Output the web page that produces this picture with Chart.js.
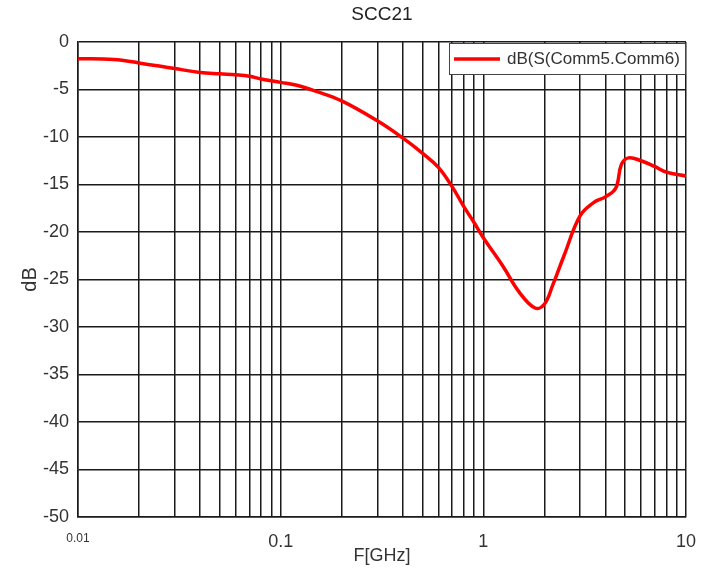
<!DOCTYPE html>
<html>
<head>
<meta charset="utf-8">
<title>SCC21</title>
<script src="https://cdn.jsdelivr.net/npm/chart.js@4.4.1/dist/chart.umd.min.js"></script>
<style>
  html, body { margin: 0; padding: 0; background: #fff; }
  #wrap { position: relative; width: 710px; height: 573px; }
</style>
</head>
<body>
<div id="wrap"><canvas id="chart" width="710" height="573"></canvas></div>
<script>
/* ── data ──────────────────────────────────────── */
const freqs = [0.01, 0.015, 0.02, 0.03, 0.04, 0.05, 0.06, 0.07, 0.08, 0.1, 0.12, 0.15, 0.2, 0.3, 0.4, 0.5,
               0.6, 0.7, 0.8, 0.9, 1.0, 1.25, 1.5, 1.8, 2.0, 2.2, 2.5, 3.0, 3.5, 4.0, 4.5, 4.8, 5.2, 6.0, 7.0, 8.0, 10.0];
const sccValues = [-1.75, -1.85, -2.2, -2.8, -3.2, -3.35, -3.45, -3.6, -3.9, -4.25, -4.55, -5.2, -6.2, -8.3, -10.1, -11.7,
                   -13.2, -15.2, -17.3, -19.0, -20.6, -23.6, -26.3, -28.0, -27.6, -25.6, -22.5, -18.3, -16.9, -16.3, -15.4, -12.9, -12.2, -12.5, -13.1, -13.7, -14.1];
const gridFreqs = [];
[0.01, 0.1, 1].forEach((dec) => { for (let k = 1; k < 10; k++) gridFreqs.push(+(dec * k).toPrecision(3)); });
gridFreqs.push(10);
const xLabels = [0.01, 0.1, 1, 10];
const seriesName = 'dB(S(Comm5.Comm6)';
const chartTitle = 'SCC21';

const FONT = "'Liberation Sans', Arial, sans-serif";
const INK = '#333';

/* ── title + legend drawn against chart area ───── */
const overlayPlugin = {
  id: 'overlay',
  afterDraw(chart) {
    const { ctx, chartArea: a } = chart;
    ctx.save();
    // title
    ctx.fillStyle = '#222';
    ctx.font = `19px ${FONT}`;
    ctx.textAlign = 'center';
    ctx.textBaseline = 'middle';
    ctx.fillText(chartTitle, (a.left + a.right) / 2, 15);

    // legend box, top-right inside the plot
    const bx = a.right - 237, by = a.top + 1, bw = 236, bh = 31;
    ctx.fillStyle = '#fff';
    ctx.fillRect(bx, by, bw, bh);
    ctx.strokeStyle = '#444';
    ctx.lineWidth = 1;
    ctx.strokeRect(bx + 0.5, by + 0.5, bw, bh);
    ctx.strokeStyle = '#ff0000';
    ctx.lineWidth = 3.5;
    ctx.beginPath();
    ctx.moveTo(bx + 5, by + 16);
    ctx.lineTo(bx + 51, by + 16);
    ctx.stroke();
    ctx.fillStyle = INK;
    ctx.font = `17px ${FONT}`;
    ctx.textAlign = 'left';
    ctx.fillText(seriesName, bx + 58, by + 16);
    ctx.restore();
  },
};

new Chart(document.getElementById('chart'), {
  type: 'line',
  data: {
    datasets: [{
      label: seriesName,
      data: freqs.map((f, i) => ({ x: f, y: sccValues[i] })),
      borderColor: '#ff0000',
      borderWidth: 3.5,
      pointRadius: 0,
      tension: 0.4,
      fill: false,
    }],
  },
  options: {
    responsive: false,
    animation: false,
    layout: { padding: { left: 0, right: 24, top: 42, bottom: 0 } },
    plugins: {
      legend: { display: false },
      title: { display: false },
      tooltip: { enabled: false },
    },
    scales: {
      x: {
        type: 'logarithmic',
        min: 0.01,
        max: 10,
        afterBuildTicks(scale) { scale.ticks = gridFreqs.map((v) => ({ value: v })); },
        afterFit(scale) { scale.height = 56; },
        grid: { color: '#1a1a1a', lineWidth: 1.5, drawTicks: false },
        border: { color: '#1a1a1a', width: 1.5 },
        ticks: {
          autoSkip: false,
          maxRotation: 0,
          padding: 14,
          color: INK,
          font: (c) => ({ family: FONT, size: c.tick && c.tick.value === 0.01 ? 12 : 18 }),
          callback: (v) => (xLabels.includes(+(+v).toPrecision(3)) ? String(+(+v).toPrecision(3)) : ''),
        },
        title: {
          display: true,
          text: 'F[GHz]',
          color: INK,
          font: { family: FONT, size: 18 },
          padding: { top: 0, bottom: 6 },
        },
      },
      y: {
        min: -50,
        max: 0,
        afterFit(scale) { scale.width = 78; },
        grid: { color: '#1a1a1a', lineWidth: 1.5, drawTicks: false },
        border: { color: '#1a1a1a', width: 1.5 },
        ticks: {
          stepSize: 5,
          padding: 9,
          color: INK,
          font: { family: FONT, size: 18 },
        },
        title: {
          display: true,
          text: 'dB',
          color: INK,
          font: { family: FONT, size: 20 },
          padding: { top: 18, bottom: 0 },
        },
      },
    },
  },
  plugins: [overlayPlugin],
});
</script>
</body>
</html>
